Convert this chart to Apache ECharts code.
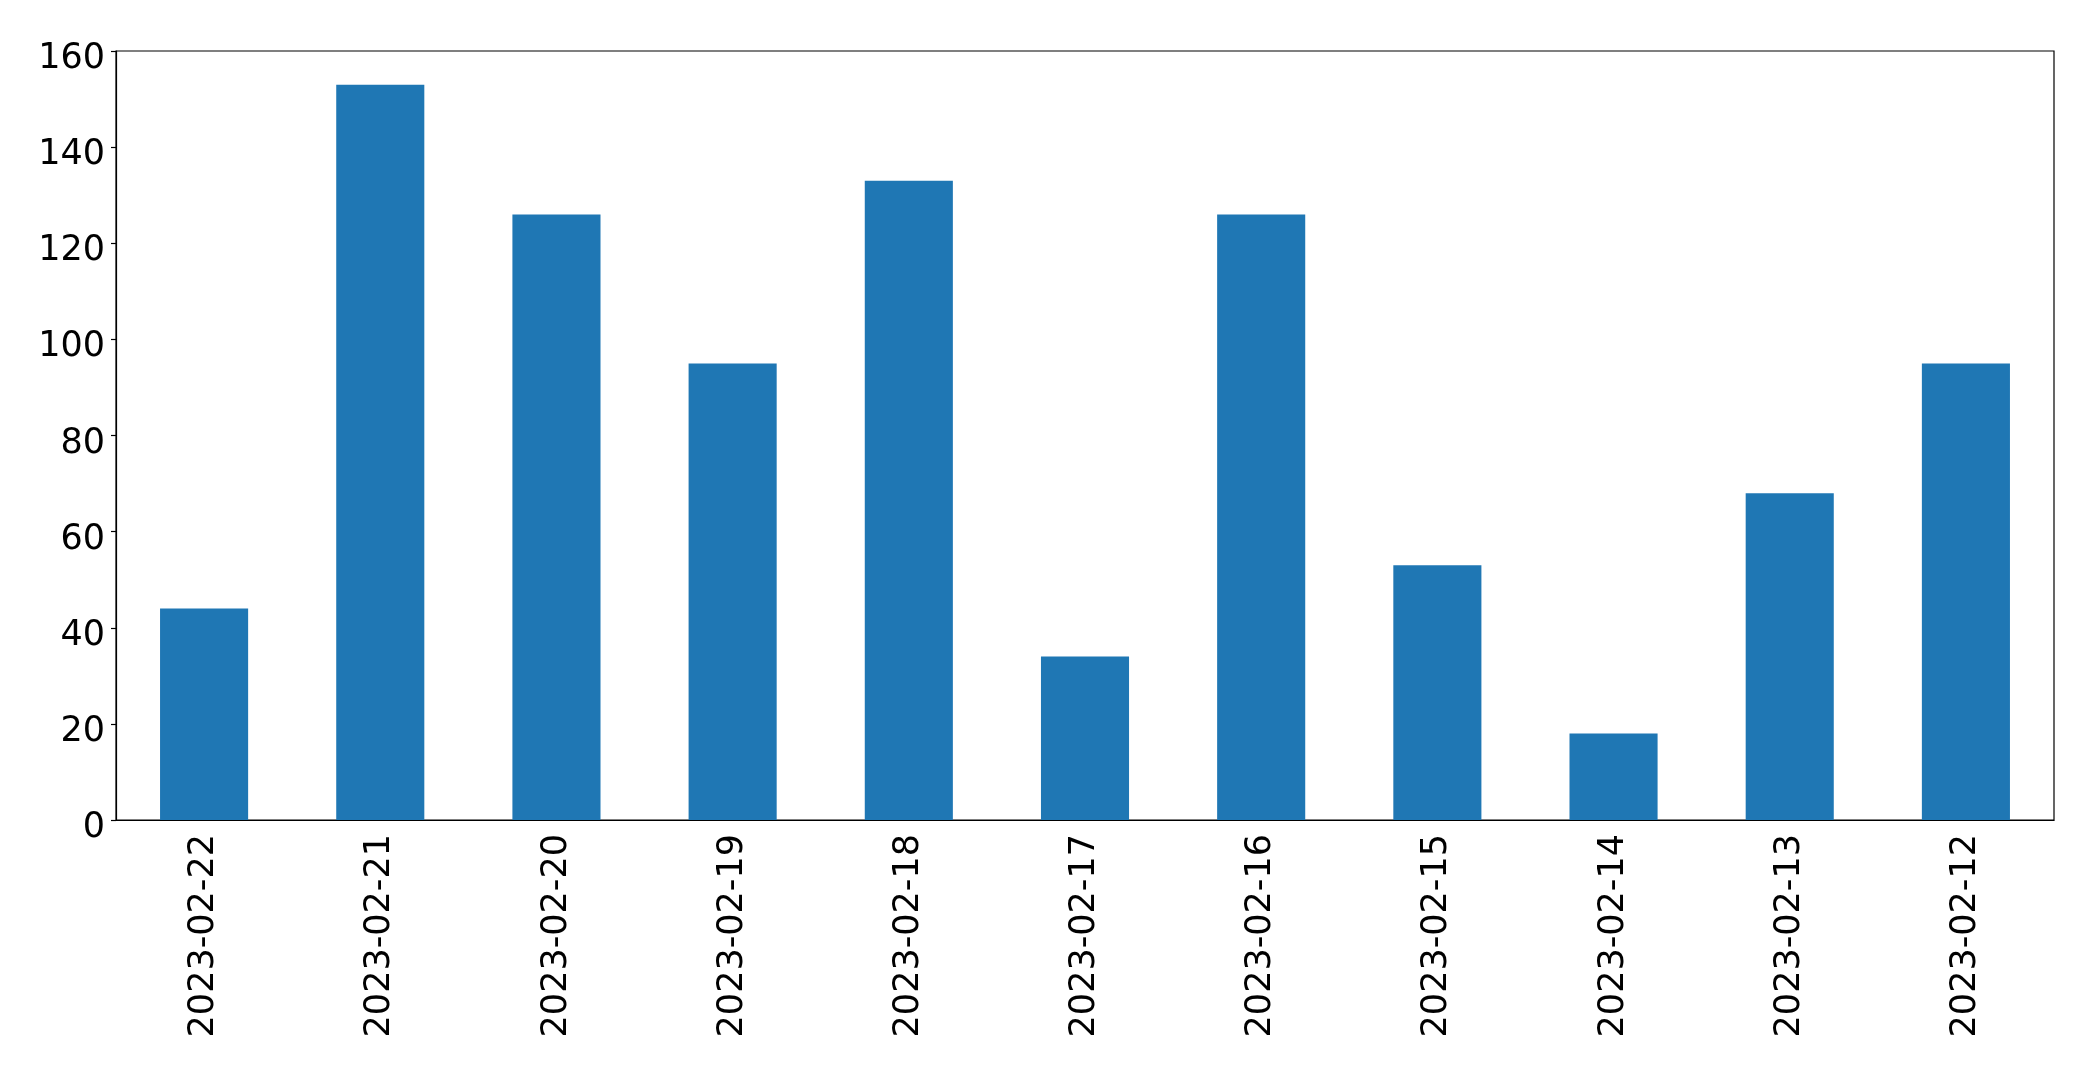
<!DOCTYPE html>
<html><head><meta charset="utf-8">
<script src="https://cdn.jsdelivr.net/npm/echarts@6/dist/echarts.min.js"></script>
<style>html,body{margin:0;padding:0;background:#fff}#c{width:2093px;height:1072px}</style>
</head><body><div id="c"></div>
<script>
const categories = ['2023-02-22','2023-02-21','2023-02-20','2023-02-19','2023-02-18','2023-02-17','2023-02-16','2023-02-15','2023-02-14','2023-02-13','2023-02-12'];
const values = [44, 153, 126, 95, 133, 34, 126, 53, 18, 68, 95];
const yTicks = {min: 0, max: 160, interval: 20};

const chart = echarts.init(document.getElementById('c'), null, {renderer: 'canvas'});
const font = 'DejaVu Sans';
chart.setOption({
  animation: false,
  grid: {left: 116, right: 2093 - 2054, top: 51, bottom: 1072 - 820, show: true, borderColor: '#000', borderWidth: 1.2, backgroundColor: 'transparent'},
  xAxis: {
    type: 'category', data: categories,
    axisLine: {lineStyle: {color: '#000', width: 1.2}},
    axisTick: {alignWithLabel: true, length: 5, lineStyle: {color: '#000', width: 1.2}},
    axisLabel: {
      rotate: 90, margin: 14, interval: 0,
      formatter: v => '{a|' + v + '}',
      rich: {a: {fontSize: 35, fontFamily: font, color: '#000'}}
    }
  },
  yAxis: {
    type: 'value', min: yTicks.min, max: yTicks.max, interval: yTicks.interval,
    splitLine: {show: false},
    axisLine: {show: true, lineStyle: {color: '#000', width: 1.2}},
    axisTick: {show: true, length: 5, lineStyle: {color: '#000', width: 1.2}},
    axisLabel: {
      margin: 11,
      formatter: v => '{a|' + v + '}',
      rich: {a: {fontSize: 35, fontFamily: font, color: '#000', padding: [16, 0, 0, 0]}}
    }
  },
  series: [{type: 'bar', data: values, barWidth: '50%', itemStyle: {color: '#1f77b4'}}]
});
</script></body></html>
